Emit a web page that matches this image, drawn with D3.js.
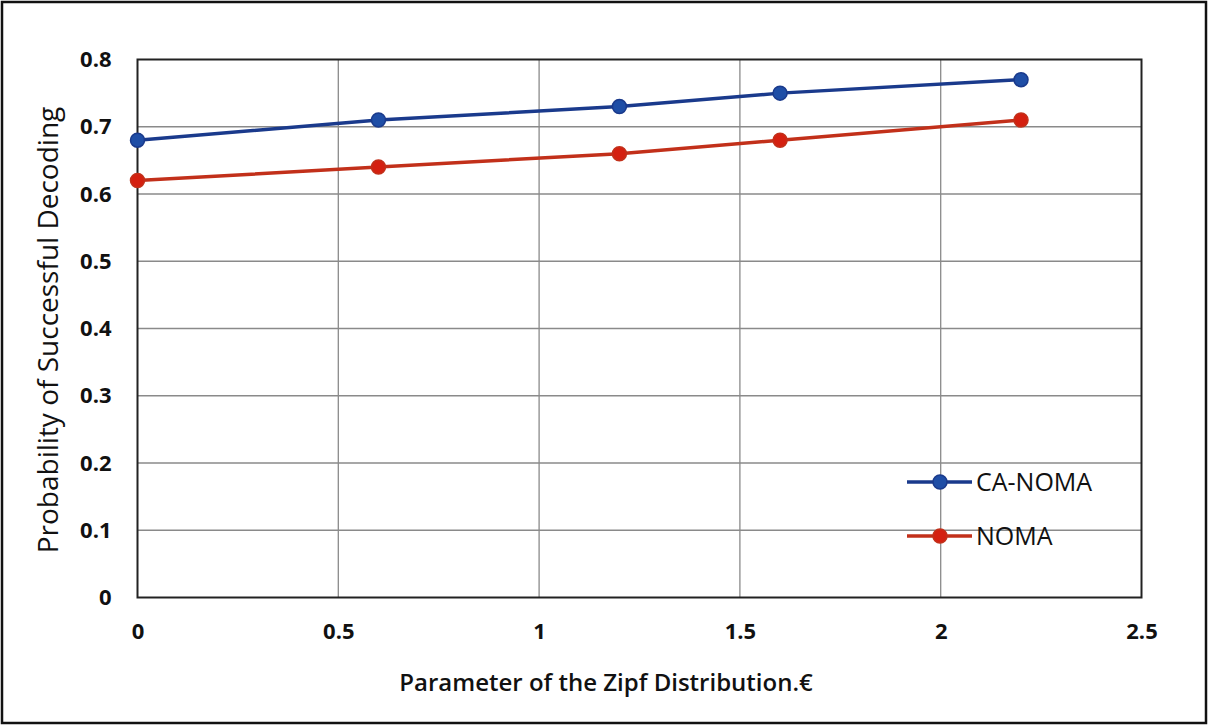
<!DOCTYPE html>
<html><head><meta charset="utf-8">
<script src="https://cdn.jsdelivr.net/npm/d3@7"></script>
<style>body{margin:0;background:#fff}</style>
</head><body><svg id="c" width="1209" height="726"></svg>
<script>
const xValues = [0, 0.6, 1.2, 1.6, 2.2];
const caNoma = [0.68, 0.71, 0.73, 0.75, 0.77];
const noma = [0.62, 0.64, 0.66, 0.68, 0.71];
const xTicks = [0, 0.5, 1, 1.5, 2, 2.5];
const xTickLabels = ["0", "0.5", "1", "1.5", "2", "2.5"];
const yTicks = [0, 0.1, 0.2, 0.3, 0.4, 0.5, 0.6, 0.7, 0.8];
const yTickLabels = ["0", "0.1", "0.2", "0.3", "0.4", "0.5", "0.6", "0.7", "0.8"];
const seriesNames = ["CA-NOMA", "NOMA"];

const svg = d3.select("#c");
const font = "'Open Sans', 'Noto Sans', sans-serif";
svg.append("rect").attr("x",2).attr("y",2).attr("width",1204).attr("height",721)
  .attr("fill","#fff").attr("stroke","#111").attr("stroke-width",2.5);

const L=137.5, R=1141.5, T=59.5, B=597.5;
const x = d3.scaleLinear().domain([0,2.5]).range([L,R]);
const y = d3.scaleLinear().domain([0,0.8]).range([B,T]);

// grid
svg.append("g").selectAll("line").data(xTicks.slice(1,-1)).join("line")
  .attr("x1",d=>x(d)).attr("x2",d=>x(d)).attr("y1",T).attr("y2",B)
  .attr("stroke","#8a8a8a").attr("stroke-width",1.3);
svg.append("g").selectAll("line").data(yTicks.slice(1,-1)).join("line")
  .attr("x1",L).attr("x2",R).attr("y1",d=>y(d)).attr("y2",d=>y(d))
  .attr("stroke","#8a8a8a").attr("stroke-width",1.3);
svg.append("rect").attr("x",L).attr("y",T).attr("width",R-L).attr("height",B-T)
  .attr("fill","none").attr("stroke","#222").attr("stroke-width",2);

// axes
const xAxis = d3.axisBottom(x).tickValues(xTicks).tickFormat((d,i)=>xTickLabels[i]).tickSize(0).tickPadding(26);
const gx = svg.append("g").attr("transform",`translate(0,${B})`).call(xAxis);
gx.select(".domain").remove();
gx.selectAll("text").attr("font-family",font).attr("font-size",22).attr("font-weight",700).attr("fill","#111");
const yAxis = d3.axisLeft(y).tickValues(yTicks).tickFormat((d,i)=>yTickLabels[i]).tickSize(0).tickPadding(26);
const gy = svg.append("g").attr("transform",`translate(${L},0)`).call(yAxis);
gy.select(".domain").remove();
gy.selectAll("text").attr("font-family",font).attr("font-size",22).attr("font-weight",700).attr("fill","#111");

svg.append("text").attr("x",606).attr("y",691).attr("text-anchor","middle")
  .attr("font-family",font).attr("font-size",24).attr("font-weight",600).attr("fill","#111")
  .text("Parameter of the  Zipf Distribution.€");
svg.append("text").attr("transform","translate(58,330) rotate(-90)").attr("text-anchor","middle")
  .attr("font-family",font).attr("font-size",28).attr("font-weight",500).attr("fill","#111")
  .text("Probability of Successful Decoding");

const colors = [{line:"#1a3a8c", dot:"#1f4ea6"}, {line:"#c2301a", dot:"#d42010"}];
const data = [caNoma, noma];
const line = d3.line().x((d,i)=>x(xValues[i])).y(d=>y(d));
data.forEach((s,k)=>{
  svg.append("path").datum(s).attr("d",line).attr("fill","none")
    .attr("stroke",colors[k].line).attr("stroke-width",3.5);
  svg.append("g").selectAll("circle").data(s).join("circle")
    .attr("cx",(d,i)=>x(xValues[i])).attr("cy",d=>y(d)).attr("r",7)
    .attr("fill",colors[k].dot).attr("stroke",colors[k].line).attr("stroke-width",1.5);
});

// legend
const legY = [482, 536];
seriesNames.forEach((n,k)=>{
  svg.append("line").attr("x1",907).attr("x2",972).attr("y1",legY[k]).attr("y2",legY[k])
    .attr("stroke",colors[k].line).attr("stroke-width",3.5);
  svg.append("circle").attr("cx",940).attr("cy",legY[k]).attr("r",7)
    .attr("fill",colors[k].dot).attr("stroke",colors[k].line).attr("stroke-width",1.5);
  svg.append("text").attr("x",976).attr("y",legY[k]+9).attr("font-family",font)
    .attr("font-size",25).attr("font-weight",500).attr("fill","#111").text(n);
});
</script></body></html>
